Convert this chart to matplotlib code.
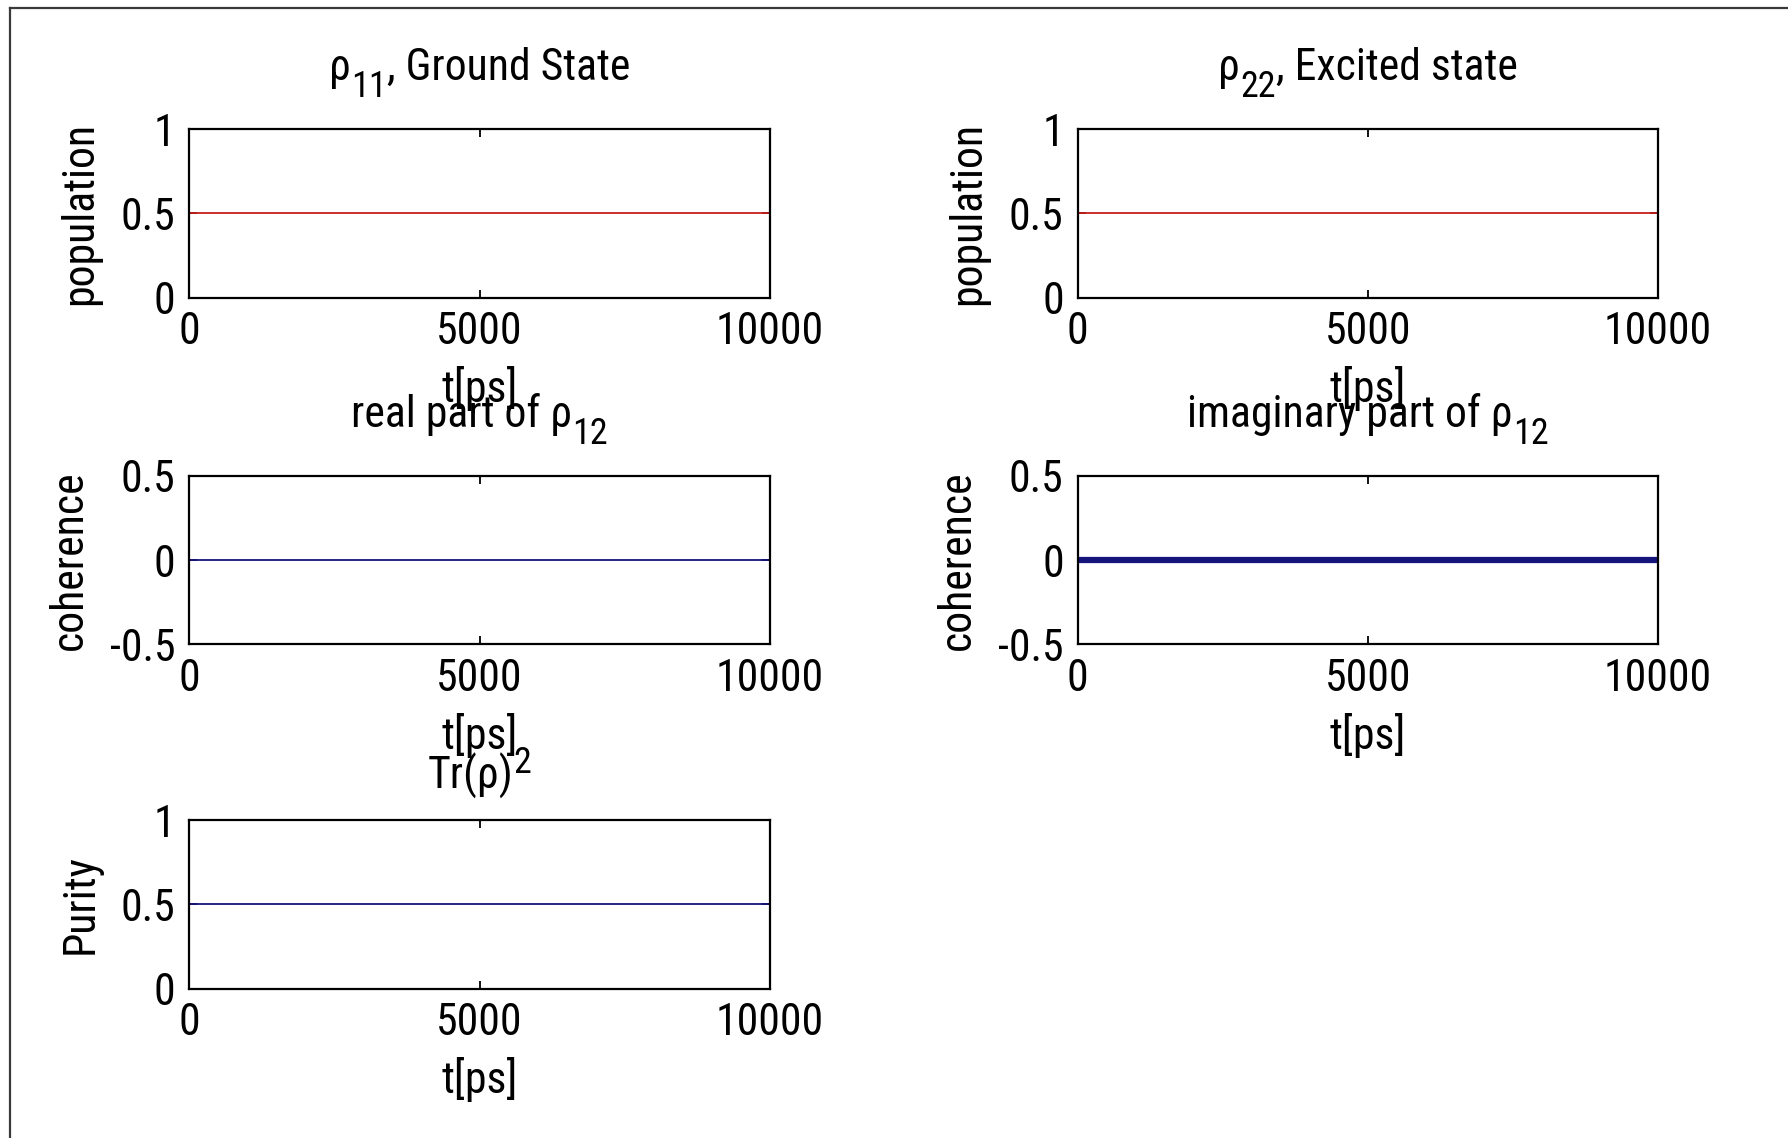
import matplotlib
matplotlib.use("Agg")
import matplotlib.pyplot as plt
from matplotlib.lines import Line2D
from matplotlib.transforms import IdentityTransform

# density matrix elements over the simulation time
t_ps = [0, 10000]
rho11 = [0.5, 0.5]
rho22 = [0.5, 0.5]
rho12_real = [0.0, 0.0]
rho12_imag = [0.0, 0.0]
purity = [0.5, 0.5]

x_ticks = [0, 5000, 10000]
pop_ticks = [0, 0.5, 1]
coh_ticks = [-0.5, 0, 0.5]

FS = 31.5
SUB_FS = 26

plt.rcParams['font.family'] = ['Roboto Condensed', 'Liberation Sans', 'DejaVu Sans']
plt.rcParams['axes.unicode_minus'] = False
plt.rcParams['font.size'] = FS

fig = plt.figure(figsize=(17.88, 11.38), dpi=100)
fig.patch.set_facecolor('white')
renderer = fig.canvas.get_renderer()

# frame edges along the top and left of the window
fig.add_artist(Line2D([0.0056, 0.0056], [0, 0.9934], transform=fig.transFigure,
                      color='#3a3a3a', lw=1.6))
fig.add_artist(Line2D([0.0056, 1.0], [0.9934, 0.9934], transform=fig.transFigure,
                      color='#3a3a3a', lw=1.6))

col_left = [0.1059, 0.6027]
row_bottom = [0.7385, 0.4338, 0.1313]
w, h = 0.3246, 0.148

red = '#c81e1e'
blue = '#14147a'


def rich_title(ax, pieces, pad_px=49):
    """Title built from pieces: 'n' normal, 'sub' subscript, 'sup' superscript."""
    bb = ax.get_position()
    W, H = fig.bbox.width, fig.bbox.height
    xc = (bb.x0 + bb.x1) / 2 * W
    yb = bb.y1 * H + pad_px
    placed = []
    x = 0.0
    for s, kind in pieces:
        size = FS if kind == 'n' else SUB_FS
        dy = {'n': 0, 'sub': -17, 'sup': 16}[kind]
        t = fig.text(0, 0, s, fontsize=size, ha='left', va='baseline',
                     transform=IdentityTransform())
        wd = t.get_window_extent(renderer).width
        placed.append((t, x, dy))
        x += wd
    for t, x0, dy in placed:
        t.set_position((xc - x / 2 + x0, yb + dy))


def make_axes(left, bottom, y, color, lw, yticks, ylabel, title, title_pad=49):
    ax = fig.add_axes([left, bottom, w, h])
    ax.plot(t_ps, y, color=color, lw=lw, solid_capstyle='butt')
    ax.set_xlim(0, 10000)
    ax.set_ylim(yticks[0], yticks[-1])
    ax.set_xticks(x_ticks)
    ax.set_yticks(yticks)
    ax.set_xticklabels([str(v) for v in x_ticks])
    ax.set_yticklabels([f"{v:g}" for v in yticks])
    ax.tick_params(direction='in', length=6, width=1.3, top=True, right=True,
                   pad=10)
    for s in ax.spines.values():
        s.set_linewidth(1.6)
    ax.set_xlabel('t[ps]', labelpad=9)
    ax.set_ylabel(ylabel, labelpad=14)
    rich_title(ax, title, title_pad)
    return ax


make_axes(col_left[0], row_bottom[0], rho11, red, 1.3, pop_ticks, 'population',
          [('ρ', 'n'), ('11', 'sub'), (', Ground State', 'n')])
make_axes(col_left[1], row_bottom[0], rho22, red, 1.3, pop_ticks, 'population',
          [('ρ', 'n'), ('22', 'sub'), (', Excited state', 'n')])
make_axes(col_left[0], row_bottom[1], rho12_real, blue, 1.3, coh_ticks, 'coherence',
          [('real part of ρ', 'n'), ('12', 'sub')])
make_axes(col_left[1], row_bottom[1], rho12_imag, blue, 4.5, coh_ticks, 'coherence',
          [('imaginary part of ρ', 'n'), ('12', 'sub')])
make_axes(col_left[0], row_bottom[2], purity, blue, 1.3, pop_ticks, 'Purity',
          [('Tr(ρ)', 'n'), ('2', 'sup')], title_pad=31)

fig.savefig('out.png', dpi=100, facecolor='white')
